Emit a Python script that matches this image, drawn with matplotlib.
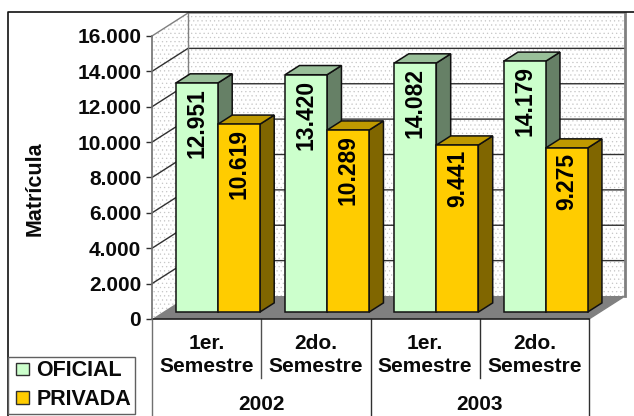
import matplotlib
matplotlib.use("Agg")
import matplotlib.pyplot as plt
from matplotlib.patches import Polygon, Patch, Rectangle
from matplotlib.lines import Line2D
from matplotlib.legend_handler import HandlerPatch

plt.rcParams['font.family'] = ['Liberation Sans', 'DejaVu Sans']
plt.rcParams['font.weight'] = 'bold'
plt.rcParams['hatch.linewidth'] = 0.4

semesters = ["1er.\nSemestre", "2do.\nSemestre", "1er.\nSemestre", "2do.\nSemestre"]
years = ["2002", "2003"]
oficial = [12951, 13420, 14082, 14179]
privada = [10619, 10289, 9441, 9275]
yticks = [0, 2000, 4000, 6000, 8000, 10000, 12000, 14000, 16000]

W, H = 634, 416
fig = plt.figure(figsize=(W / 100, H / 100), dpi=100, facecolor='white')
ax = fig.add_axes([152 / W, 97 / H, 437 / W, 283 / H])
ax.set_xlim(0, 4)
ax.set_ylim(0, 16000)
ax.patch.set_visible(False)

PX = 4 / 437          # data x per pixel
PY = 16000 / 283      # data y per pixel
DX, DY = 36 * PX, 23 * PY   # full depth of the 3D box
YMAX = 16000
TXT = '#0a0a0a'


def P(x, y, d=0.0):
    return (x + d * DX, y + d * DY)


def poly(pts, fc, ec='none', lw=0.0, z=1, hatch=None):
    ax.add_patch(Polygon(pts, closed=True, facecolor=fc, edgecolor=ec, linewidth=lw,
                         zorder=z, clip_on=False, hatch=hatch))


# walls and floor
HATCH_C = '#c6c6c6'
poly([P(0, 0, 1), P(4, 0, 1), P(4, YMAX, 1), P(0, YMAX, 1)], 'white', HATCH_C, 0, 1, '....')
poly([P(0, 0), P(0, 0, 1), P(0, YMAX, 1), P(0, YMAX)], 'white', HATCH_C, 0, 1, '....')
poly([P(0, 0), P(4, 0), P(4, 0, 1), P(0, 0, 1)], '#808080', 'none', 0, 2)

for v in yticks[1:-1]:
    a, b, c = P(0, v), P(0, v, 1), P(4, v, 1)
    ax.plot([a[0], b[0], c[0]], [a[1], b[1], c[1]], color='#303030', lw=1.0, zorder=2, clip_on=False)
a, b, c = P(0, YMAX), P(0, YMAX, 1), P(4, YMAX, 1)
ax.plot([a[0], b[0], c[0]], [a[1], b[1], c[1]], color='#808080', lw=1.0, zorder=2, clip_on=False)
a, b = P(0, 0, 1), P(0, YMAX, 1)
ax.plot([a[0], b[0]], [a[1], b[1]], color='#808080', lw=1.0, zorder=2, clip_on=False)
a, b = P(4, 0, 1), P(4, YMAX, 1)
ax.plot([a[0], b[0]], [a[1], b[1]], color='#808080', lw=2.0, zorder=2, clip_on=False)
a, b = P(4, 0), P(4, 0, 1)
ax.plot([a[0], b[0]], [a[1], b[1]], color='#808080', lw=1.0, zorder=2, clip_on=False)

# bars
BW = 42.0 * PX
GAP = 13.0 * PX
D0, D1 = 0.30, 0.70
EC = '#101010'


def bar3d(x0, v, front, top, side, z):
    x1 = x0 + BW
    poly([P(x1, 0, D0), P(x1, 0, D1), P(x1, v, D1), P(x1, v, D0)], side, EC, 1.1, z)
    poly([P(x0, v, D0), P(x1, v, D0), P(x1, v, D1), P(x0, v, D1)], top, EC, 1.1, z)
    poly([P(x0, 0, D0), P(x1, 0, D0), P(x1, v, D0), P(x0, v, D0)], front, EC, 1.1, z + 0.1)
    cx, cy = P(x0 + BW / 2, v, D0)
    ax.annotate(f"{v:,}".replace(",", "."), (cx, cy), xytext=(0, -3.6), textcoords='offset points',
                rotation=90, ha='center', va='top', fontsize=16.5, color='#000000',
                zorder=z + 0.2, annotation_clip=False)


for i, (a_v, b_v) in enumerate(zip(oficial, privada)):
    x0 = i + GAP
    bar3d(x0, a_v, '#CCFFCC', '#99BF99', '#668066', 3 + i * 2)
    bar3d(x0 + BW, b_v, '#FFCC00', '#BF9900', '#806600', 4 + i * 2)

# axes
for s in ('top', 'right', 'bottom'):
    ax.spines[s].set_visible(False)
ax.spines['left'].set_color('#707070')
ax.spines['left'].set_linewidth(1.2)
ax.set_yticks(yticks)
ax.set_yticklabels([f"{v:,}".replace(",", ".") for v in yticks], fontsize=15, color=TXT)
ax.tick_params(axis='y', length=4.3, width=1.0, color='#303030', pad=3.5)
ax.set_ylabel("Matrícula", fontsize=15.5, color=TXT, fontweight='bold', labelpad=0)
ax.yaxis.set_label_coords((46 - 152) / 437, (319 - 189) / 283)

ax.set_xticks([i + 0.5 for i in range(4)])
ax.set_xticklabels(semesters, fontsize=15, color=TXT, linespacing=1.25)
ax.tick_params(axis='x', length=0, pad=11)

# multi-level axis separators
BASE = -59 * PY
BOT = -97 * PY
ax.plot([0, 4], [0, 0], color='#202020', lw=1.2, zorder=2.5, clip_on=False)
for x, low, col in [(0, BOT, '#707070'), (1, BASE, '#505050'), (2, BOT, '#303030'),
                    (3, BASE, '#303030'), (4, BOT, '#303030')]:
    ax.plot([x, x], [0, low], color=col, lw=1.0, zorder=2, clip_on=False)
for x, y in zip((1, 3), years):
    ax.text(x, -85 * PY, y, ha='center', va='center', fontsize=15, color=TXT)

# outer frame
fig.add_artist(Line2D([8 / W, 8 / W, 1], [0, 1 - 11.5 / H, 1 - 11.5 / H], color='#111111', lw=1.2))


# legend
def inset_swatch(legend, orig_handle, xdescent, ydescent, width, height, fontsize):
    inset = 3.0  # points of blank space left of the swatch
    return Rectangle((inset - xdescent, -ydescent), width - inset, height)


handles = [Patch(facecolor='#CCFFCC', edgecolor='#303030', lw=1.0, label='OFICIAL'),
           Patch(facecolor='#FFCC00', edgecolor='#303030', lw=1.0, label='PRIVADA')]
leg = fig.legend(handles=handles, loc='lower left', bbox_to_anchor=(8 / W, 2 / H), borderaxespad=0,
                 fancybox=False, framealpha=1, edgecolor='#606060',
                 prop={'size': 15.5, 'weight': 'bold'},
                 handler_map={Patch: HandlerPatch(patch_func=inset_swatch)},
                 handlelength=0.81, handleheight=0.5, handletextpad=0.33, labelspacing=0.36,
                 borderpad=0.18, labelcolor=TXT)
leg.get_frame().set_linewidth(1.0)

fig.savefig("out.png", dpi=100)
